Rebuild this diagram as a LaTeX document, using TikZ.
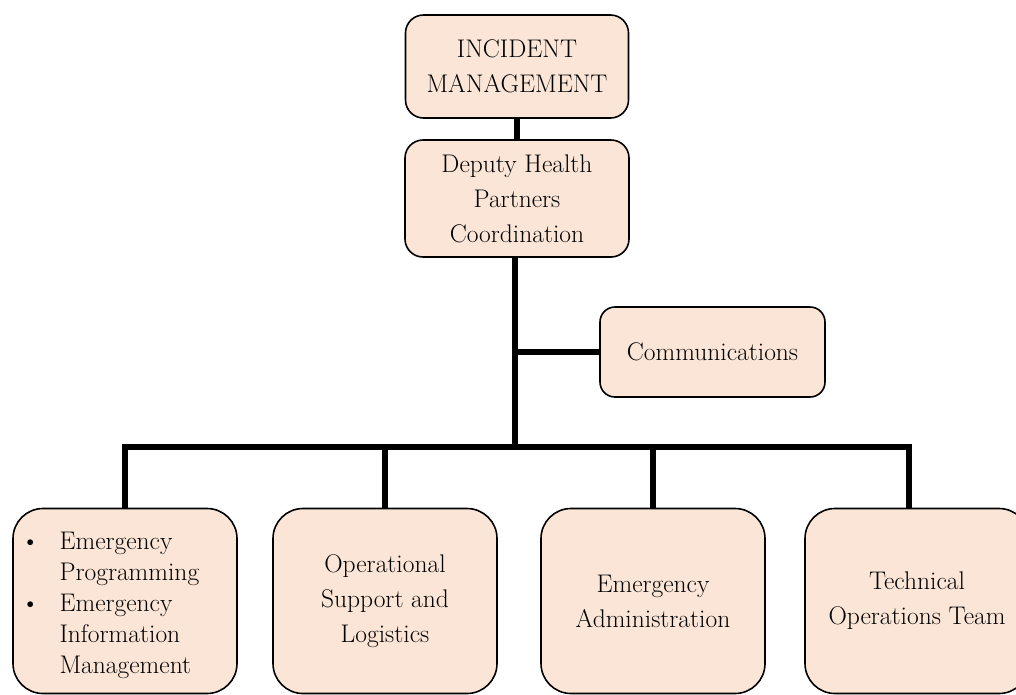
\documentclass[tikz,border=0pt]{standalone}
\usetikzlibrary{calc}
\definecolor{peach}{HTML}{FBE5D6}
\begin{document}
\begin{tikzpicture}[x=1pt,y=-1pt,
  box/.style={draw=black, line width=1.6pt, fill=peach, rounded corners=18pt, inner sep=0pt, align=center,
    font=\fontsize{25.5}{35}\selectfont},
  bigbox/.style={box, rounded corners=30pt, minimum width=224pt, minimum height=185pt},
  conn/.style={line width=6pt, line join=miter},
  lbl/.style={align=left, font=\fontsize{25.5}{35}\selectfont, inner sep=0pt}]
\useasboundingbox (0,0) rectangle (1016,694);
\clip (0,0) rectangle (1016,694);
% top boxes
\node[box, minimum width=223pt, minimum height=103pt] (inc) at (517,66.5) {INCIDENT\\MANAGEMENT};
\node[box, minimum width=224pt, minimum height=117pt] (dep) at (517,198.5) {Deputy Health\\Partners\\Coordination};
\node[box, rounded corners=15pt, minimum width=225pt, minimum height=90pt] (com) at (712.5,352) {Communications};
% bottom boxes
\node[bigbox] (b1) at (125,601) {};
\node[lbl, anchor=west] (b1t) at (21,604) {%
  \begin{tabular}{@{}l@{\hspace{20pt}}l@{}}
  \textbullet & Emergency\\[-4pt]
   & Programming\\[-4pt]
  \textbullet & Emergency\\[-4pt]
   & Information\\[-4pt]
   & Management
  \end{tabular}};
\node[bigbox] (b2) at (385,601) {Operational\\Support and\\Logistics};
\node[bigbox] (b3) at (653,601) {Emergency\\Administration};
\node[bigbox] (b4) at (917,601) {Technical\\Operations Team};
% connectors
\coordinate (j) at (515,447);
\coordinate (b4d) at (909,509);
\draw[conn] (inc.south) -- (dep.north);
\draw[conn] (dep.south -| j) -- (j);
\draw[conn] (com.west -| j) -- (com.west);
\draw[conn] (b1.north) -- (b1.north |- j) -- (b4d |- j) -- (b4d);
\draw[conn] (b2.north |- j) -- (b2.north);
\draw[conn] (b3.north |- j) -- (b3.north);
\end{tikzpicture}
\end{document}
